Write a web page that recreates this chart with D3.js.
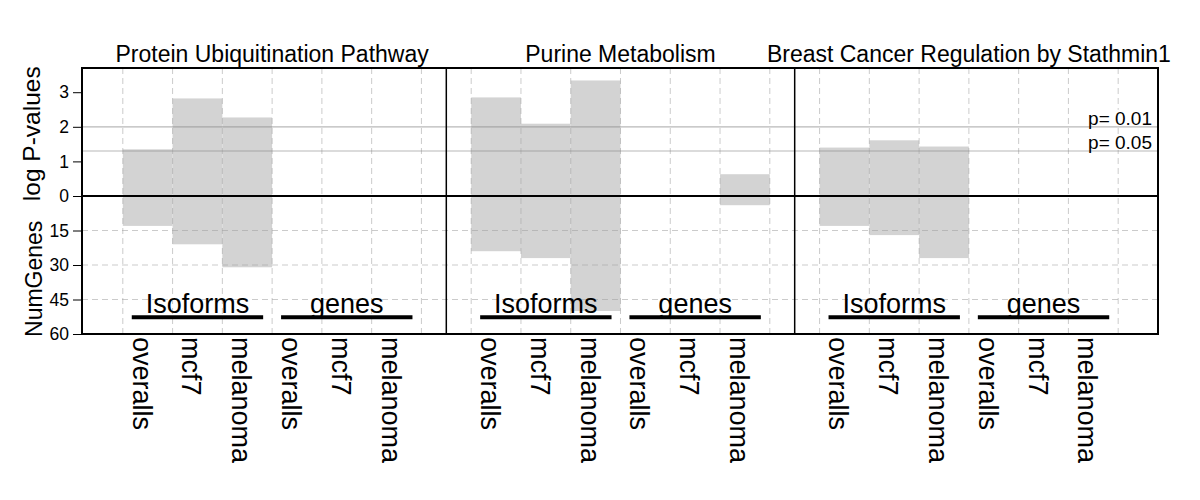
<!DOCTYPE html>
<html>
<head>
<meta charset="utf-8">
<script src="https://cdn.jsdelivr.net/npm/d3@7"></script>
<style>
  html, body { margin: 0; padding: 0; background: #fff; }
  svg { display: block; font-family: "Liberation Sans", Arial, Helvetica, sans-serif; }
</style>
</head>
<body>
<svg id="chart" width="1200" height="500"></svg>
<script>
// ---- data ----
const pathways = ["Protein Ubiquitination Pathway", "Purine Metabolism", "Breast Cancer Regulation by Stathmin1"];
const groups = ["Isoforms", "genes"];
const samples = ["overalls", "mcf7", "melanoma"];
// -log10 p-values, per pathway, per sample (Isoforms group)
const isoformLogP = [[1.35, 2.82, 2.27], [2.85, 2.09, 3.34], [1.40, 1.61, 1.43]];
const isoformNumGenes = [[13, 21, 31], [24, 27, 50], [13, 17, 27]];
// genes group
const geneLogP = [[0, 0, 0], [0, 0, 0.63], [0, 0, 0]];
const geneNumGenes = [[0, 0, 0], [0, 0, 4], [0, 0, 0]];
const logPTicks = [0, 1, 2, 3];
const numGenesTicks = [15, 30, 45, 60];
const pThresholds = [0.01, 0.05];

// ---- layout ----
(function () {
const svg = d3.select("#chart");
const plotLeft = 82, plotRight = 1158, plotTop = 68, zeroY = 196, plotBottom = 334;
const slotsPerPanel = 7;

const x = d3.scaleLinear().domain([-0.82, 20.8]).range([plotLeft, plotRight]);
const yP = d3.scaleLinear().domain([0, 3.7]).range([zeroY, plotTop]);
const yG = d3.scaleLinear().domain([0, 60]).range([zeroY, plotBottom]);

// flatten records
const records = [];
pathways.forEach((pw, p) => {
  groups.forEach((g, gi) => {
    samples.forEach((s, si) => {
      const lp = gi === 0 ? isoformLogP[p][si] : geneLogP[p][si];
      const ng = gi === 0 ? isoformNumGenes[p][si] : geneNumGenes[p][si];
      records.push({ p, gi, si, sample: s, logP: lp, numGenes: ng, pos: p * slotsPerPanel + gi * 3 + si });
    });
  });
});

// bars
const bars = records.filter(d => d.logP > 0 || d.numGenes > 0);
svg.append("g").selectAll("rect").data(bars).join("rect")
  .attr("x", d => x(d.pos))
  .attr("width", d => x(d.pos + 1) - x(d.pos))
  .attr("y", d => yP(d.logP))
  .attr("height", d => yG(d.numGenes) - yP(d.logP))
  .attr("fill", "#d3d3d3");

// vertical dashed grid
const vLines = d3.range(0, pathways.length * slotsPerPanel);
svg.append("g").selectAll("line").data(vLines).join("line")
  .attr("x1", d => x(d)).attr("x2", d => x(d))
  .attr("y1", plotTop).attr("y2", plotBottom)
  .attr("stroke", "#a0a0a0").attr("stroke-opacity", 0.55)
  .attr("stroke-dasharray", "6,4").attr("stroke-width", 1);

// horizontal dashed grid (NumGenes)
svg.append("g").selectAll("line").data(numGenesTicks.slice(0, 3)).join("line")
  .attr("x1", plotLeft).attr("x2", plotRight)
  .attr("y1", d => yG(d)).attr("y2", d => yG(d))
  .attr("stroke", "#a0a0a0").attr("stroke-opacity", 0.55)
  .attr("stroke-dasharray", "6,4").attr("stroke-width", 1);

// p threshold lines
svg.append("g").selectAll("line").data(pThresholds).join("line")
  .attr("x1", plotLeft).attr("x2", plotRight)
  .attr("y1", d => yP(-Math.log10(d))).attr("y2", d => yP(-Math.log10(d)))
  .attr("stroke", "#888").attr("stroke-opacity", 0.6).attr("stroke-width", 1.2);

// p labels with white background
const pl = svg.append("g").selectAll("g").data(pThresholds).join("g");
pl.append("rect")
  .attr("x", 1085).attr("width", 70)
  .attr("y", d => yP(-Math.log10(d)) - 17).attr("height", 16)
  .attr("fill", "#fff");
pl.append("text")
  .attr("x", 1152).attr("y", d => yP(-Math.log10(d)) - 2)
  .attr("text-anchor", "end").attr("font-size", 19)
  .text(d => "p= " + d3.format(".2f")(d));

// zero line
svg.append("line")
  .attr("x1", plotLeft).attr("x2", plotRight)
  .attr("y1", yP(0)).attr("y2", yP(0))
  .attr("stroke", "#000").attr("stroke-width", 2);

// panel dividers
svg.append("g").selectAll("line").data(d3.range(1, pathways.length)).join("line")
  .attr("x1", d => x(d * slotsPerPanel - 0.5)).attr("x2", d => x(d * slotsPerPanel - 0.5))
  .attr("y1", plotTop).attr("y2", plotBottom)
  .attr("stroke", "#000").attr("stroke-width", 1.5);

// frame
svg.append("rect")
  .attr("x", plotLeft).attr("y", plotTop).attr("width", plotRight - plotLeft).attr("height", plotBottom - plotTop)
  .attr("fill", "none").attr("stroke", "#000").attr("stroke-width", 2);

// y axes
const axP = d3.axisLeft(yP).tickValues(logPTicks).tickFormat(d3.format("d")).tickSize(9).tickPadding(4);
const axG = d3.axisLeft(yG).tickValues(numGenesTicks).tickFormat(d3.format("d")).tickSize(9).tickPadding(4);
[axP, axG].forEach(ax => {
  const g = svg.append("g").attr("transform", `translate(${plotLeft},0)`).call(ax);
  g.select(".domain").remove();
  g.selectAll("line").attr("stroke", "#000");
  g.selectAll("text").attr("font-size", 17.5).attr("fill", "#000")
    .attr("font-family", "'Liberation Sans', Arial, sans-serif");
});

// y axis titles
svg.append("text")
  .attr("transform", `translate(40,${yP(1.8)}) rotate(-90)`)
  .attr("text-anchor", "middle").attr("font-size", 24.5)
  .text("log P-values");
svg.append("text")
  .attr("transform", `translate(42,${yG(36)}) rotate(-90)`)
  .attr("text-anchor", "middle").attr("font-size", 23)
  .text("NumGenes");

// panel titles
svg.append("g").selectAll("text").data(pathways).join("text")
  .attr("x", (d, i) => x(i * slotsPerPanel + 3))
  .attr("y", 62)
  .attr("text-anchor", "middle").attr("font-size", 23)
  .text(d => d);

// group labels with underline
const groupRecs = [];
pathways.forEach((pw, p) => groups.forEach((g, gi) => groupRecs.push({ p, gi, label: g, c: p * slotsPerPanel + gi * 3 + 1.5 })));
const gl = svg.append("g").selectAll("g").data(groupRecs).join("g");
gl.append("line")
  .attr("x1", d => x(d.c - 1.32)).attr("x2", d => x(d.c + 1.32))
  .attr("y1", yG(52.7)).attr("y2", yG(52.7))
  .attr("stroke", "#000").attr("stroke-width", 4);
gl.append("text")
  .attr("x", d => x(d.c)).attr("y", yG(50.8))
  .attr("text-anchor", "middle").attr("font-size", 27)
  .text(d => d.label);

// x labels (rotated)
svg.append("g").selectAll("text").data(records).join("text")
  .attr("transform", d => `translate(${x(d.pos + 0.5) - 15},${plotBottom + 3}) rotate(90)`)
  .attr("text-anchor", "start").attr("font-size", 27)
  .text(d => d.sample);
})();
</script>
</body>
</html>
